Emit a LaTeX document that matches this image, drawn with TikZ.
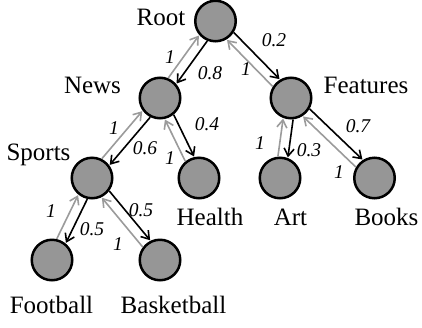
\documentclass[tikz,border=0pt]{standalone}
\usepackage{fontspec}
\setmainfont{Liberation Serif}
\usetikzlibrary{arrows.meta,calc}
\definecolor{nodefill}{RGB}{150,150,150}
\definecolor{backcol}{RGB}{155,155,155}
\newcommand\edgepair[2]{%
  \draw[blkarrow] ($(#1)!5pt!90:(#2)$) -- ($(#2)!5pt!-90:(#1)$);
  \draw[gryarrow] ($(#2)!5pt!90:(#1)$) -- ($(#1)!5pt!-90:(#2)$);
}
\begin{document}
\begin{tikzpicture}[x=1pt,y=-1pt,
  vert/.style={circle,draw=black,line width=2.5pt,fill=nodefill,minimum size=40.5pt,inner sep=0pt},
  lbl/.style={font=\fontsize{25}{28}\selectfont,inner sep=0pt,anchor=base},
  wt/.style={font=\fontsize{19.5}{22}\selectfont\itshape,inner sep=0pt},
  tipstyle/.style={-{Straight Barb[length=7.5pt,width=10pt,line width=1.6pt]}},
  blkarrow/.style={draw=black,line width=1.6pt,tipstyle,shorten <=21pt,shorten >=21.5pt},
  gryarrow/.style={draw=backcol,line width=1.6pt,tipstyle,shorten <=21pt,shorten >=21.5pt}
]
\useasboundingbox (0,0) rectangle (422,327);
% vertices
\node[vert] (root) at (215.5,21) {};
\node[vert] (news) at (160,98) {};
\node[vert] (feat) at (291,98) {};
\node[vert] (sports) at (92,178) {};
\node[vert] (health) at (199,178) {};
\node[vert] (art) at (280,178) {};
\node[vert] (books) at (374.5,178) {};
\node[vert] (foot) at (52,260) {};
\node[vert] (basket) at (160,260) {};
% names
\node[lbl] (troot) at (161,25) {Root};
\node[lbl] (tnews) at (92.5,93) {News};
\node[lbl] (tfeat) at (366,93) {Features};
\node[lbl] (tsports) at (38.5,160) {Sports};
\node[lbl] (thealth) at (210,225) {Health};
\node[lbl] (tart) at (290.5,225) {Art};
\node[lbl] (tbooks) at (386.5,225) {Books};
\node[lbl] (tfoot) at (51.5,313) {Football};
\node[lbl] (tbasket) at (173.5,313) {Basketball};
% connectors
\edgepair{root}{news}
\edgepair{root}{feat}
\edgepair{news}{sports}
\edgepair{news}{health}
\edgepair{feat}{art}
\edgepair{feat}{books}
\edgepair{sports}{foot}
\edgepair{sports}{basket}
% weights
\node[wt] (w1) at (170,57) {1};
\node[wt] (w2) at (210,73) {0.8};
\node[wt] (w3) at (274,40) {0.2};
\node[wt] (w4) at (246,69) {1};
\node[wt] (w5) at (114,128) {1};
\node[wt] (w6) at (145,148) {0.6};
\node[wt] (w7) at (207,124) {0.4};
\node[wt] (w8) at (170,158) {1};
\node[wt] (w9) at (260,143) {1};
\node[wt] (w10) at (309,150) {0.3};
\node[wt] (w11) at (358,126) {0.7};
\node[wt] (w12) at (339,172) {1};
\node[wt] (w13) at (51,211) {1};
\node[wt] (w14) at (92,229) {0.5};
\node[wt] (w15) at (141,210) {0.5};
\node[wt] (w16) at (118,244) {1};
\end{tikzpicture}
\end{document}
